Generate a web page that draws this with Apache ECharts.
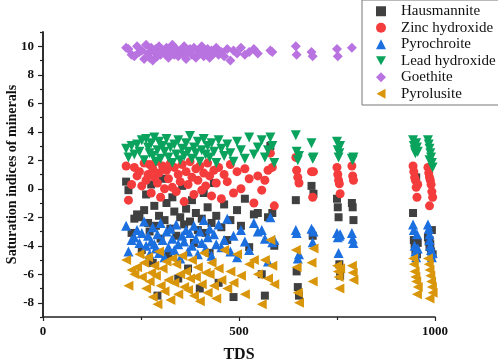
<!DOCTYPE html>
<html>
<head>
<meta charset="utf-8">
<script src="https://cdn.jsdelivr.net/npm/echarts@6.0.0/dist/echarts.min.js"></script>
<style>
  html, body { margin: 0; padding: 0; background: #fff; }
  #chart { width: 498px; height: 361px; }
</style>
</head>
<body>
<div id="chart"></div>
<script>
// TDS of each sample (shared x values)
const tds = [
  212, 218, 226, 233, 240, 246, 252, 258, 263, 268, 272, 276, 280, 284, 288, 292,
  296, 300, 305, 310, 315, 320, 325, 330, 335, 340, 345, 350, 355, 360, 365, 370,
  375, 380, 385, 390, 395, 400, 405, 410, 415, 420, 425, 430, 436, 442, 448, 455,
  462, 470, 478, 486, 495, 505, 515, 526, 538, 548, 558, 566, 574, 580, 585, 590,
  645, 647, 650, 653, 685, 688, 690,
  750, 752, 754, 756, 758, 788, 790, 792,
  944, 946, 948, 950, 952, 954, 956,
  982, 984, 986, 988, 990, 992, 994, 986
];

// saturation indices per mineral (null = not plotted)
const hausmannite = [
  0.5, -0.1, -3.1, -2.1, -1.8, -2.0, -4.3, -1.5, -0.4, -2.4, -3.0, 0.3, -5.2, -1.2, -2.6, -7.5,
  -1.9, -3.5, 0.7, -2.2, -1.0, -4.7, -2.8, -0.6, -1.6, -3.3, -6.3, -2.0, 0.2, -2.5, -1.4, -5.6,
  -2.3, -0.8, -3.8, -1.7, -2.9, -7.0, -2.1, -0.3, -3.1, -1.3, -4.5, -2.4, 0.4, -1.9, -6.6, -2.7,
  -1.1, -3.6, -2.2, -7.6, -1.5, -2.6, -0.7, -4.1, -1.8, -1.7, -6.0, -7.5, -2.0, 3.0, -1.7, -4.0,
  -0.8, -5.8, -6.9, -7.5, 0.2, -3.3, -0.35,
  -0.7, -1.3, -2.0, -5.3, -6.1, -1.0, -1.3, -2.2,
  -1.7, -3.6, -3.9, -4.3, 0.8, -4.6, -3.8,
  -3.4, -3.7, -4.1, -3.9, -4.4, -2.9, -4.6, -3.6
];
const zincHydroxide = [
  1.6, -0.8, 0.3, 1.5, 0.9, 1.2, 0.2, 1.8, 0.6, 1.0, 1.7, -0.3, 1.4, 0.8, 1.9, 0.4,
  1.1, -0.6, 1.6, 0.0, 1.3, 0.7, 1.8, 0.1, 1.5, -0.2, 1.0, 0.5, 1.7, -0.9, 1.2, 0.3,
  1.9, 0.8, -0.4, 1.4, 0.6, 1.6, -0.1, 1.1, 0.2, 1.8, 0.9, -0.5, 1.3, 0.4, 1.5, -0.7,
  1.0, 0.5, 1.7, -0.3, 1.2, 0.0, 1.4, 0.7, -1.0, 0.9, -0.1, 0.6, 1.3, 2.5, 1.5, -1.2,
  2.2, 1.3, 0.8, 0.4, 1.2, -0.6, 1.2,
  1.5, 1.0, 0.6, 0.35, -0.35, 1.6, 0.9, 0.6,
  1.6, 1.2, 0.8, 0.6, 0.1, -0.6, 0.3,
  1.5, 1.1, 0.8, 0.6, 0.3, -0.2, -0.6, -1.2
];
const pyrochroite = [
  -2.6, -4.4, -3.6, -3.4, -2.9, -3.8, -3.1, -2.3, -4.0, -3.3, -4.6, -3.7, -2.7, -3.9, -4.2, -3.2,
  -4.5, -2.4, -3.6, -4.8, -3.0, -4.1, -2.8, -3.5, -4.3, -2.5, -3.9, -4.9, -3.3, -3.7, -2.9, -4.4,
  -3.1, -4.0, -2.6, -3.5, -4.6, -3.0, -3.8, -2.2, -4.2, -3.4, -2.8, -4.7, -3.2, -3.9, -2.5, -4.1,
  -3.6, -2.1, -4.4, -3.3, -4.8, -2.9, -3.7, -4.3, -2.4, -3.0, -2.9, -3.5, -5.1, -2.0, -3.75, -3.6,
  -2.9, -3.1, -4.9, -4.6, -2.8, -3.75, -3.0,
  -3.1, -3.4, -4.5, -3.3, -3.2, -3.1, -3.5, -3.8,
  -2.5, -2.9, -4.0, -4.4, -4.8, -3.2, -4.2,
  -2.5, -2.8, -3.2, -4.0, -4.3, -4.8, -4.5, -3.6
];
const leadHydroxide = [
  2.8, 2.2, 3.0, 2.4, 3.1, 2.6, 3.4, 2.0, 3.5, 2.9, 2.5, 3.2, 2.3, 3.6, 1.9, 2.7,
  3.3, 2.1, 3.0, 2.6, 3.5, 2.2, 2.9, 1.8, 3.1, 2.4, 3.4, 2.0, 2.8, 2.3, 3.2, 2.6,
  3.7, 2.1, 2.9, 2.5, 3.3, 1.9, 2.7, 3.5, 2.4, 3.0, 2.2, 3.2, 2.6, 1.8, 3.4, 2.8,
  2.3, 3.1, 2.5, 1.9, 3.3, 2.7, 2.1, 3.6, 2.4, 2.9, 3.4, 2.2, 2.7, 3.6, 3.0, 1.8,
  3.75, 2.6, 2.0, 2.3, 3.2, 2.1, 2.2,
  3.3, 2.7, 2.2, 2.5, 3.0, 2.1, 2.0, 2.2,
  3.4, 3.0, 2.7, 2.5, 3.2, 2.9, 2.6,
  3.4, 3.1, 2.8, 2.5, 2.2, 1.8, 1.5, 2.0
];
const goethite = [
  9.9, 9.8, 9.4, 9.3, 10.0, 9.6, 9.7, 9.1, 10.1, 9.5, 9.2, 9.9, 9.0, 9.6, 9.8, 9.3,
  10.0, 9.4, 9.7, 9.5, 9.9, 9.2, 9.6, 10.1, 9.4, 9.8, 9.3, 9.7, 9.5, 10.0, 9.1, 9.6,
  9.8, 9.4, 9.9, 9.2, 9.7, 9.5, 10.0, 9.3, 9.6, 9.8, 9.2, 9.7, 9.5, 9.9, 9.4, 9.6,
  9.3, 9.8, 9.0, 9.7, 9.5, 9.9, 9.4, 9.6, 9.8, 9.5, null, null, null, 9.7, 9.6, null,
  10.0, 9.4, null, null, 9.6, 9.3, null,
  9.8, 9.3, null, null, null, 9.9, null, null,
  null, null, null, null, null, null, null,
  null, null, null, null, null, null, null, null
];
const pyrolusite = [
  -5.0, -6.8, -5.7, -6.0, -5.5, -4.6, -6.2, -5.2, -7.0, -4.8, -6.5, -5.9, -7.6, -5.4, -6.1, -8.1,
  -4.4, -6.8, -5.6, -7.2, -5.1, -6.4, -7.8, -4.9, -6.6, -5.3, -7.4, -6.0, -4.7, -6.9, -5.8, -7.1,
  -6.3, -5.0, -7.5, -6.2, -5.5, -7.9, -6.7, -4.5, -5.9, -7.3, -6.0, -5.2, -6.8, -7.7, -5.6, -6.4,
  -4.3, -7.0, -5.8, -6.6, -4.6, -6.1, -7.4, -5.3, -5.0, -6.0, -8.1, -5.0, -6.3, -3.6, -5.4, -6.7,
  -4.3, -5.5, -7.3, -8.0, -5.2, -6.5, -4.2,
  -5.4, -5.8, -6.2, -7.0, -5.6, -5.4, -5.9, -6.4,
  -4.9, -5.3, -5.8, -6.2, -6.5, -7.4, -6.9,
  -4.9, -5.3, -5.7, -6.1, -6.5, -6.9, -7.3, -7.7
];

const xTicks = [0, 500, 1000];
const yLabelTicks = [-8, -6, -4, -2, 0, 2, 4, 6, 8, 10];
const yMinorTicks = [-9, -7, -5, -3, -1, 1, 3, 5, 7, 9, 11];

const toPoints = (vals) => tds.map((x, i) => [x, vals[i]]).filter(p => p[1] !== null);

const serif = '"Liberation Serif", "DejaVu Serif", serif';
const downTri = 'path://M0,0L10,0L5,9Z';
const leftTri = 'path://M9,0L9,10L0,5Z';

const chart = echarts.init(document.getElementById('chart'));

const option = {
  animation: false,
  textStyle: { fontFamily: serif },
  grid: { left: 43, top: 32, width: 392, height: 285, containLabel: false, outerBoundsMode: 'none' },
  legend: {
    left: 362,
    top: 0,
    orient: 'vertical',
    padding: [3, 4, 3, 14],
    itemWidth: 10,
    itemHeight: 10,
    itemGap: 0,
    backgroundColor: '#fff',
    borderColor: '#777',
    borderWidth: 1,
    textStyle: { fontFamily: serif, fontSize: 15, color: '#111', lineHeight: 16.5, padding: [0, 0, 0, 10] },
    data: [
      { name: 'Hausmannite', icon: 'rect', itemStyle: { color: '#404040' } },
      { name: 'Zinc hydroxide', icon: 'circle' },
      { name: 'Pyrochroite', icon: 'triangle' },
      { name: 'Lead hydroxide', icon: downTri },
      { name: 'Goethite', icon: 'diamond' },
      { name: 'Pyrolusite', icon: leftTri }
    ]
  },
  xAxis: {
    type: 'value',
    min: xTicks[0],
    max: xTicks[xTicks.length - 1],
    interval: 500,
    name: 'TDS',
    nameLocation: 'middle',
    nameGap: 30,
    nameMoveOverlap: false,
    nameTextStyle: { fontFamily: serif, fontSize: 16, fontWeight: 'bold', color: '#111' },
    axisLine: { onZero: false, lineStyle: { color: '#222', width: 1.5 } },
    axisTick: { length: 4, lineStyle: { color: '#222', width: 1.2 } },
    minorTick: { show: true, splitNumber: 2, length: 3, lineStyle: { color: '#222', width: 1.2 } },
    axisLabel: { formatter: (v) => String(v), fontFamily: serif, fontSize: 13, fontWeight: 'bold', color: '#111', margin: 8 },
    splitLine: { show: false }
  },
  yAxis: [
    {
      type: 'value',
      min: -9,
      max: 11,
      name: 'Saturation indices of minerals',
      nameLocation: 'middle',
      nameGap: 24,
      nameMoveOverlap: false,
      nameTextStyle: { fontFamily: serif, fontSize: 14, fontWeight: 'bold', color: '#111' },
      axisLine: { show: true, onZero: false, lineStyle: { color: '#222', width: 1.5 } },
      axisTick: { show: true, length: 5, customValues: yLabelTicks, lineStyle: { color: '#222', width: 1.2 } },
      axisLabel: { customValues: yLabelTicks, fontFamily: serif, fontSize: 13, fontWeight: 'bold', color: '#111', margin: 9 },
      splitLine: { show: false }
    },
    {
      type: 'value',
      position: 'left',
      min: -9,
      max: 11,
      axisLine: { show: true, onZero: false, lineStyle: { color: '#222', width: 1.5 } },
      axisTick: { show: true, length: 3, customValues: yMinorTicks, lineStyle: { color: '#222', width: 1.2 } },
      axisLabel: { show: false },
      splitLine: { show: false }
    }
  ],
  series: [
    { name: 'Hausmannite', type: 'scatter', symbol: 'rect', symbolSize: 8, itemStyle: { color: '#404040', opacity: 1 }, data: toPoints(hausmannite) },
    { name: 'Zinc hydroxide', type: 'scatter', symbol: 'circle', symbolSize: 9, itemStyle: { color: '#f43c3c', opacity: 1 }, data: toPoints(zincHydroxide) },
    { name: 'Pyrochroite', type: 'scatter', symbol: 'triangle', symbolSize: 10, itemStyle: { color: '#1b6fdf', opacity: 1 }, data: toPoints(pyrochroite) },
    { name: 'Lead hydroxide', type: 'scatter', symbol: 'triangle', symbolRotate: 180, symbolSize: 10, itemStyle: { color: '#0aa35e', opacity: 1 }, data: toPoints(leadHydroxide) },
    { name: 'Goethite', type: 'scatter', symbol: 'diamond', symbolSize: 10, itemStyle: { color: '#b873e0', opacity: 1 }, data: toPoints(goethite) },
    { name: 'Pyrolusite', type: 'scatter', symbol: 'triangle', symbolRotate: 90, symbolSize: 10, itemStyle: { color: '#d9960a', opacity: 1 }, data: toPoints(pyrolusite) }
  ]
};

chart.setOption(option);
</script>
</body>
</html>
